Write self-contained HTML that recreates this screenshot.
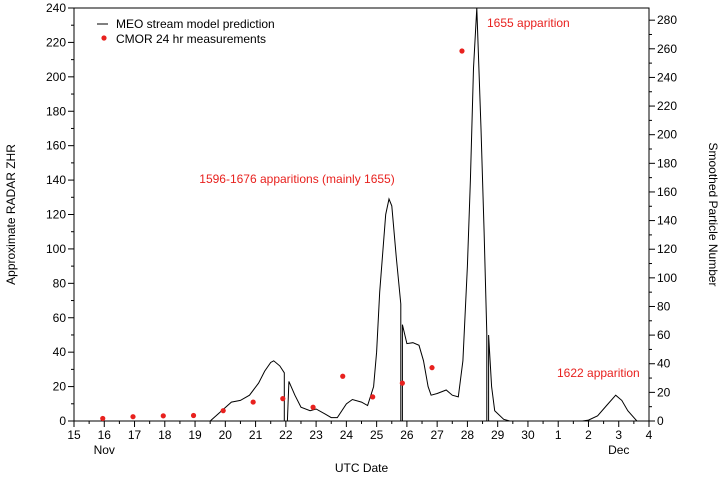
<!DOCTYPE html>
<html><head><meta charset="utf-8"><style>
body{margin:0;background:#fff;}
svg text{font-family:"Liberation Sans",sans-serif;font-size:12px;}
</style></head><body>
<svg id="s" width="724" height="480" xmlns="http://www.w3.org/2000/svg"></svg>
<script>
const s=document.getElementById('s');
const L=74,R=649,T=8,B=421;
const X=d=>L+(d-15)*(R-L)/19;
const Y=v=>B-v*(B-T)/240;
const YR=v=>B-v*(B-T)/288.5;
let h='';
h+=`<rect x="${L}" y="${T}" width="${R-L}" height="${B-T}" fill="none" stroke="#000" stroke-width="1"/>`;
for(let v=0;v<=240;v+=10){const y=Y(v);const big=v%20==0;
 h+=`<line x1="${L-(big?6:3)}" x2="${L}" y1="${y}" y2="${y}" stroke="#000"/>`;
 if(big)h+=`<text x="${L-8}" y="${y+4}" text-anchor="end">${v}</text>`;}
for(let v=0;v<=280;v+=10){const y=YR(v);const big=v%20==0;
 h+=`<line x1="${R}" x2="${R+(big?6:3)}" y1="${y}" y2="${y}" stroke="#000"/>`;
 if(big)h+=`<text x="${R+8}" y="${y+4}">${v}</text>`;}
const labs=[15,16,17,18,19,20,21,22,23,24,25,26,27,28,29,30,1,2,3,4];
for(let i=0;i<=19;i++){const x=X(15+i);
 h+=`<line x1="${x}" x2="${x}" y1="${B}" y2="${B+6}" stroke="#000"/>`;
 h+=`<text x="${x}" y="${B+18}" text-anchor="middle">${labs[i]}</text>`;
 if(i<19){const xm=X(15.5+i);h+=`<line x1="${xm}" x2="${xm}" y1="${B}" y2="${B+3}" stroke="#000"/>`;}}
h+=`<text x="${X(16)}" y="${B+33}" text-anchor="middle">Nov</text>`;
h+=`<text x="${X(33)}" y="${B+33}" text-anchor="middle">Dec</text>`;
h+=`<text x="${(L+R)/2}" y="472" text-anchor="middle">UTC Date</text>`;
h+=`<text transform="translate(15,${(T+B)/2}) rotate(-90)" text-anchor="middle">Approximate RADAR ZHR</text>`;
h+=`<text transform="translate(709,${(T+B)/2}) rotate(90)" text-anchor="middle">Smoothed Particle Number</text>`;
const pts=[[15,0],[19.5,0],[20.2,11],[20.5,12],[20.8,15],[21.1,22],[21.3,29],[21.5,34],[21.6,35],[21.8,32],[21.95,28],[21.95,0],[22.05,0],[22.1,23],[22.3,15],[22.5,8],[22.8,6],[23.0,7],[23.3,4],[23.5,2],[23.7,2],[24.0,10],[24.2,12.5],[24.5,11],[24.7,9],[24.9,20],[25.0,40],[25.1,75],[25.3,120],[25.41,129],[25.5,125],[25.65,95],[25.8,68],[25.8,0],[25.85,0],[25.85,56],[26.0,45],[26.2,45.5],[26.4,44],[26.55,35],[26.7,20],[26.8,15],[27.0,16],[27.3,18],[27.5,15],[27.7,14],[27.85,35],[28.0,90],[28.1,140],[28.2,205],[28.31,240],[28.45,170],[28.55,110],[28.64,51],[28.64,0],[28.7,0],[28.7,50],[28.8,20],[28.9,6],[29.2,1],[29.4,0],[31.8,0],[32.0,0.5],[32.3,3],[32.6,9],[32.9,15],[33.1,12],[33.3,6],[33.6,0],[34,0]];
h+=`<polyline fill="none" stroke="#000" stroke-width="1" points="${pts.map(p=>X(p[0]).toFixed(1)+','+Y(p[1]).toFixed(1)).join(' ')}"/>`;
const dots=[[15.95,1.5],[16.95,2.5],[17.95,3],[18.95,3.2],[19.93,6],[20.92,11],[21.9,13],[22.9,8],[23.88,26],[24.87,14],[25.85,22],[26.83,31],[27.82,215]];
dots.forEach(d=>h+=`<circle cx="${X(d[0])}" cy="${Y(d[1])}" r="2.6" fill="#e8211e"/>`);
h+=`<line x1="97" x2="108" y1="24" y2="24" stroke="#000"/>`;
h+=`<text x="116" y="28">MEO stream model prediction</text>`;
h+=`<circle cx="104" cy="38" r="2.6" fill="#e8211e"/>`;
h+=`<text x="116" y="43">CMOR 24 hr measurements</text>`;
h+=`<text x="297" y="183" text-anchor="middle" fill="#e8211e">1596-1676 apparitions (mainly 1655)</text>`;
h+=`<text x="487" y="27" fill="#e8211e">1655 apparition</text>`;
h+=`<text x="557" y="377" fill="#e8211e">1622 apparition</text>`;
s.innerHTML=h;
</script>
</body></html>
